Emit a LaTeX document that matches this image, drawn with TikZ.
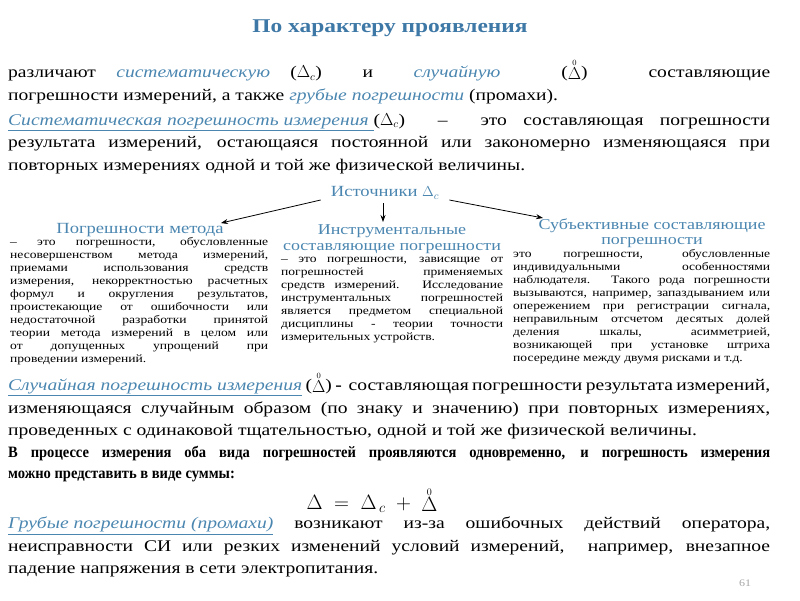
\documentclass[tikz,border=0pt]{standalone}
\usepackage{fontspec}
\setmainfont{Liberation Serif}[FakeStretch=1.2]
\newfontfamily\condserif{Liberation Serif}[FakeStretch=0.92]
\usetikzlibrary{arrows.meta}
\definecolor{hblue}{HTML}{3E78A6}
\definecolor{tblue}{HTML}{4A86B0}
\newcommand{\zd}{$\mathop{\Delta}\limits^{\scriptscriptstyle 0}$}
\newcommand{\dc}{$\Delta_{c}$}
\tikzset{
 para/.style={anchor=north west,inner sep=0pt,text width=762pt,align=justify,font=\fontsize{16.3}{22.5}\selectfont},
 boxtxt/.style={anchor=north west,inner sep=0pt,align=justify,font=\fontsize{11.3}{13}\selectfont},
 head/.style={inner sep=0pt,text=tblue,align=center},
 conn/.style={-{Stealth[length=7pt,width=5pt]},line width=0.8pt}
}
\begin{document}
\begin{tikzpicture}[x=1pt,y=-1pt]
\useasboundingbox (0,0) rectangle (800,600);
\node[head,font=\bfseries\fontsize{19.5}{20}\selectfont,text=hblue] (title) at (390,28) {По характеру проявления};
\node[para] (p1) at (8,59) {различают \textit{\textcolor{tblue}{систематическую}} (\dc) \ и \ \textit{\textcolor{tblue}{случайную}} \ \ (\zd) \ \ составляющие\linebreak погрешности измерений, а также \textit{\textcolor{tblue}{грубые погрешности}} (промахи).};
\node[para] (p2) at (8,113) {\textit{\textcolor{tblue}{\underline{Систематическая погрешность измерения }}}(\dc) \ – \ это составляющая погрешности\linebreak результата измерений, остающаяся постоянной или закономерно изменяющаяся при\linebreak повторных измерениях одной и той же физической величины.};
\node[head,font=\fontsize{15.5}{16}\selectfont] (src) at (385,193) {Источники \dc};
\node[head,font=\fontsize{15.5}{16}\selectfont] (h1) at (140,230) {Погрешности метода};
\node[boxtxt,text width=258pt] (t1) at (10,237) {– это погрешности, обусловленные\linebreak несовершенством метода измерений,\linebreak приемами использования средств\linebreak измерения, некорректностью расчетных\linebreak формул и округления результатов,\linebreak проистекающие от ошибочности или\linebreak недостаточной разработки принятой\linebreak теории метода измерений в целом или\linebreak от допущенных упрощений при\linebreak проведении измерений.};
\node[head,font=\fontsize{15}{15.5}\selectfont] (h2) at (392,239) {Инструментальные\\составляющие погрешности};
\node[boxtxt,text width=222pt] (t2) at (281,257) {– это погрешности, зависящие от\linebreak погрешностей применяемых\linebreak средств измерений. Исследование\linebreak инструментальных погрешностей\linebreak является предметом специальной\linebreak дисциплины - теории точности\linebreak измерительных устройств.};
\node[head,font=\fontsize{15}{15.5}\selectfont] (h3) at (652,233) {Субъективные составляющие\\погрешности};
\node[boxtxt,text width=257pt] (t3) at (513,249) {это погрешности, обусловленные\linebreak индивидуальными особенностями\linebreak наблюдателя. Такого рода погрешности\linebreak вызываются, например, запаздыванием или\linebreak опережением при регистрации сигнала,\linebreak неправильным отсчетом десятых долей\linebreak деления шкалы, асимметрией,\linebreak возникающей при установке штриха\linebreak посередине между двумя рисками и т.д.};
\draw[conn] (src.west) ++(-10,7) -- ([xshift=-3pt]h1.north east);
\draw[conn] (383,203) -- (383,222);
\draw[conn] (src.east) ++(10,7) -- (543,218);
\node[para] (p3) at (8,372) {\textit{\textcolor{tblue}{\underline{Случайная погрешность измерения}}} (\zd) \textbf{-} \ составляющая погрешности результата измерений,\linebreak изменяющаяся случайным образом (по знаку и значению) при повторных измерениях,\linebreak проведенных с одинаковой тщательностью, одной и той же физической величины.};
\node[para,font=\condserif\bfseries\fontsize{15.8}{21}\selectfont] (p4) at (8,446) {В процессе измерения оба вида погрешностей проявляются одновременно, и погрешность измерения\linebreak можно представить в виде суммы:};
\node[inner sep=0pt,font=\fontsize{20}{22}\selectfont] (eq) at (372,500) {$\Delta \;=\; \Delta_{\,c} \;+\; \mathop{\Delta}\limits^{\scriptscriptstyle 0}$};
\node[para] (p5) at (8,517) {\textit{\textcolor{tblue}{\underline{Грубые погрешности (промахи)}}} возникают из-за ошибочных действий оператора,\linebreak неисправности СИ или резких изменений условий измерений, \ например, внезапное\linebreak падение напряжения в сети электропитания.};
\node[inner sep=0pt,text=gray!70,font=\fontsize{10}{12}\selectfont] (pg) at (745,583) {61};
\end{tikzpicture}
\end{document}
